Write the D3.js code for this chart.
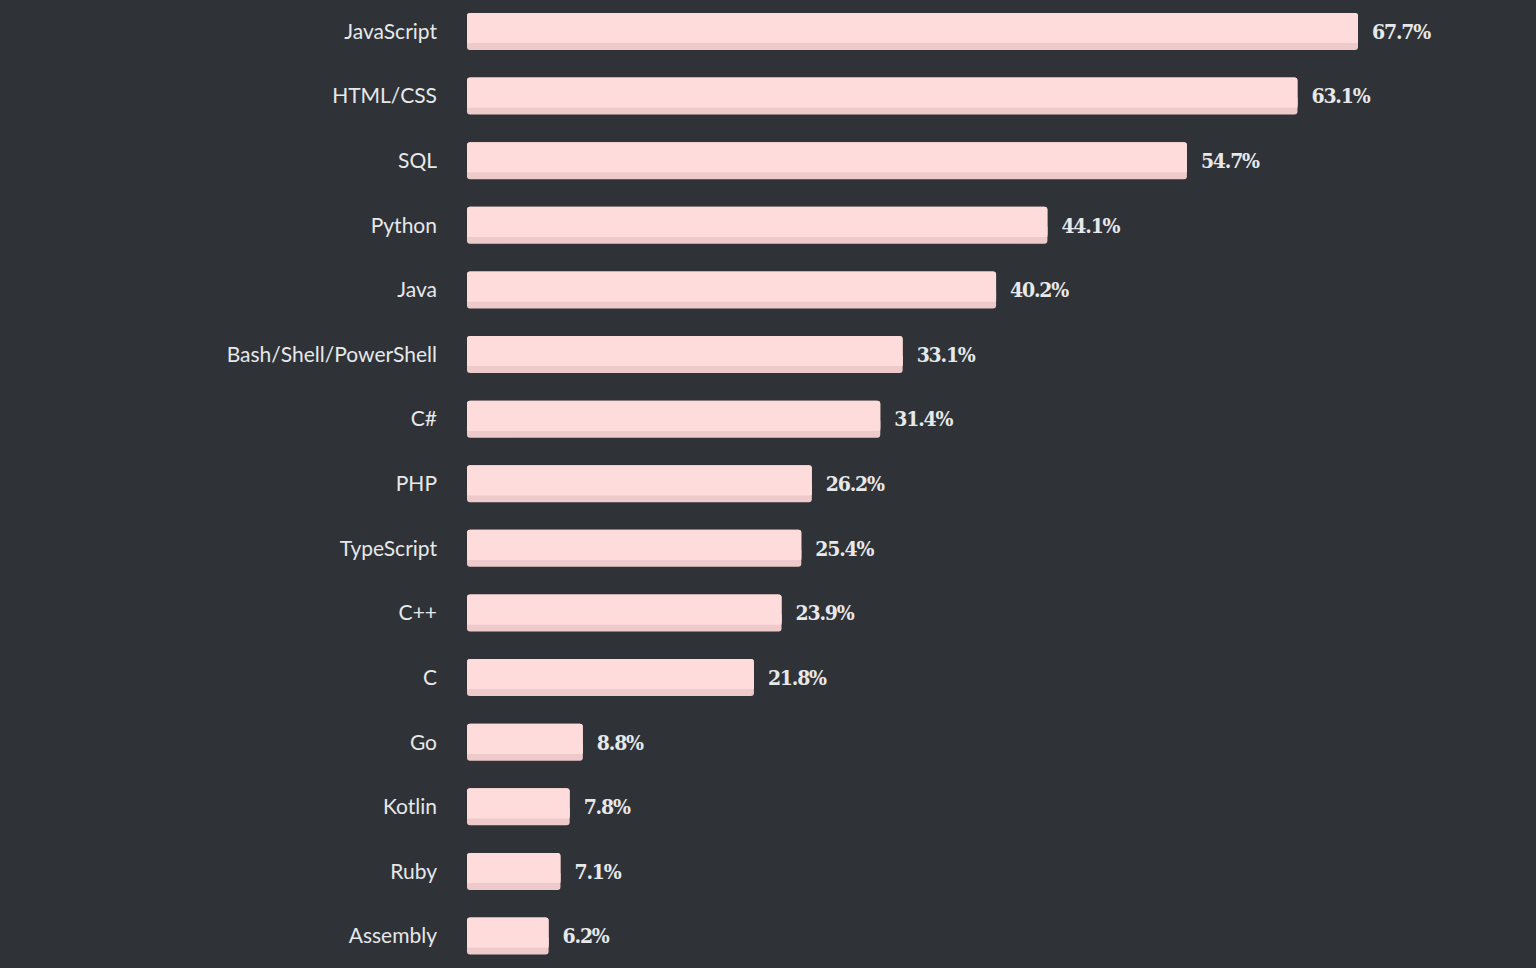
<!DOCTYPE html>
<html><head><meta charset="utf-8">
<script src="https://cdn.jsdelivr.net/npm/d3@7"></script>
<style>
html,body{margin:0;padding:0;background:#2f3237;}
svg{display:block;}
</style></head>
<body>
<script>
const categories = ["JavaScript","HTML/CSS","SQL","Python","Java","Bash/Shell/PowerShell","C#","PHP","TypeScript","C++","C","Go","Kotlin","Ruby","Assembly"];
const values = [67.7,63.1,54.7,44.1,40.2,33.1,31.4,26.2,25.4,23.9,21.8,8.8,7.8,7.1,6.2];
const valueLabels = ["67.7%","63.1%","54.7%","44.1%","40.2%","33.1%","31.4%","26.2%","25.4%","23.9%","21.8%","8.8%","7.8%","7.1%","6.2%"];

const W = 1536, H = 968;
const svg = d3.select("body").append("svg").attr("width", W).attr("height", H);
svg.append("rect").attr("width", W).attr("height", H).attr("fill", "#2f3237");

const x = d3.scaleLinear().domain([0, 67.7]).range([467, 1358]);
const y = d3.scalePoint().domain(categories).range([31.5, 936]);
const bh = 37;

const data = categories.map((c, i) => ({c, v: values[i], l: valueLabels[i]}));

const g = svg.append("g");
const row = g.selectAll("g.row").data(data).join("g").attr("class", "row");

// bar base (darker bottom band)
row.append("rect")
  .attr("x", x(0))
  .attr("y", d => y(d.c) - bh / 2)
  .attr("width", d => x(d.v) - x(0))
  .attr("height", bh)
  .attr("rx", 3)
  .attr("fill", "#efcaca");
// bar top face
row.append("rect")
  .attr("x", x(0))
  .attr("y", d => y(d.c) - bh / 2)
  .attr("width", d => x(d.v) - x(0))
  .attr("height", bh - 7)
  .attr("rx", 3)
  .attr("fill", "#ffdcdc");
row.append("rect")
  .attr("x", x(0))
  .attr("y", d => y(d.c) - bh / 2 + 20)
  .attr("width", d => x(d.v) - x(0))
  .attr("height", 10)
  .attr("fill", "#ffdcdc");

// category labels
row.append("text")
  .attr("x", 437)
  .attr("y", d => y(d.c))
  .attr("dy", "0.35em")
  .attr("text-anchor", "end")
  .attr("font-family", "Lato, 'Noto Sans', sans-serif")
  .attr("font-size", 21)
  .attr("fill", "#e6e8ea")
  .text(d => d.c);

// value labels
row.append("text")
  .attr("x", d => x(d.v) + 14)
  .attr("y", d => y(d.c))
  .attr("dy", "0.35em")
  .attr("font-family", "'DejaVu Serif Condensed', 'DejaVu Serif', serif")
  .attr("font-weight", "bold")
  .attr("font-size", 21)
  .attr("letter-spacing", "-1.2")
  .attr("fill", "#e6e8ea")
  .text(d => d.l);
</script>
</body></html>
